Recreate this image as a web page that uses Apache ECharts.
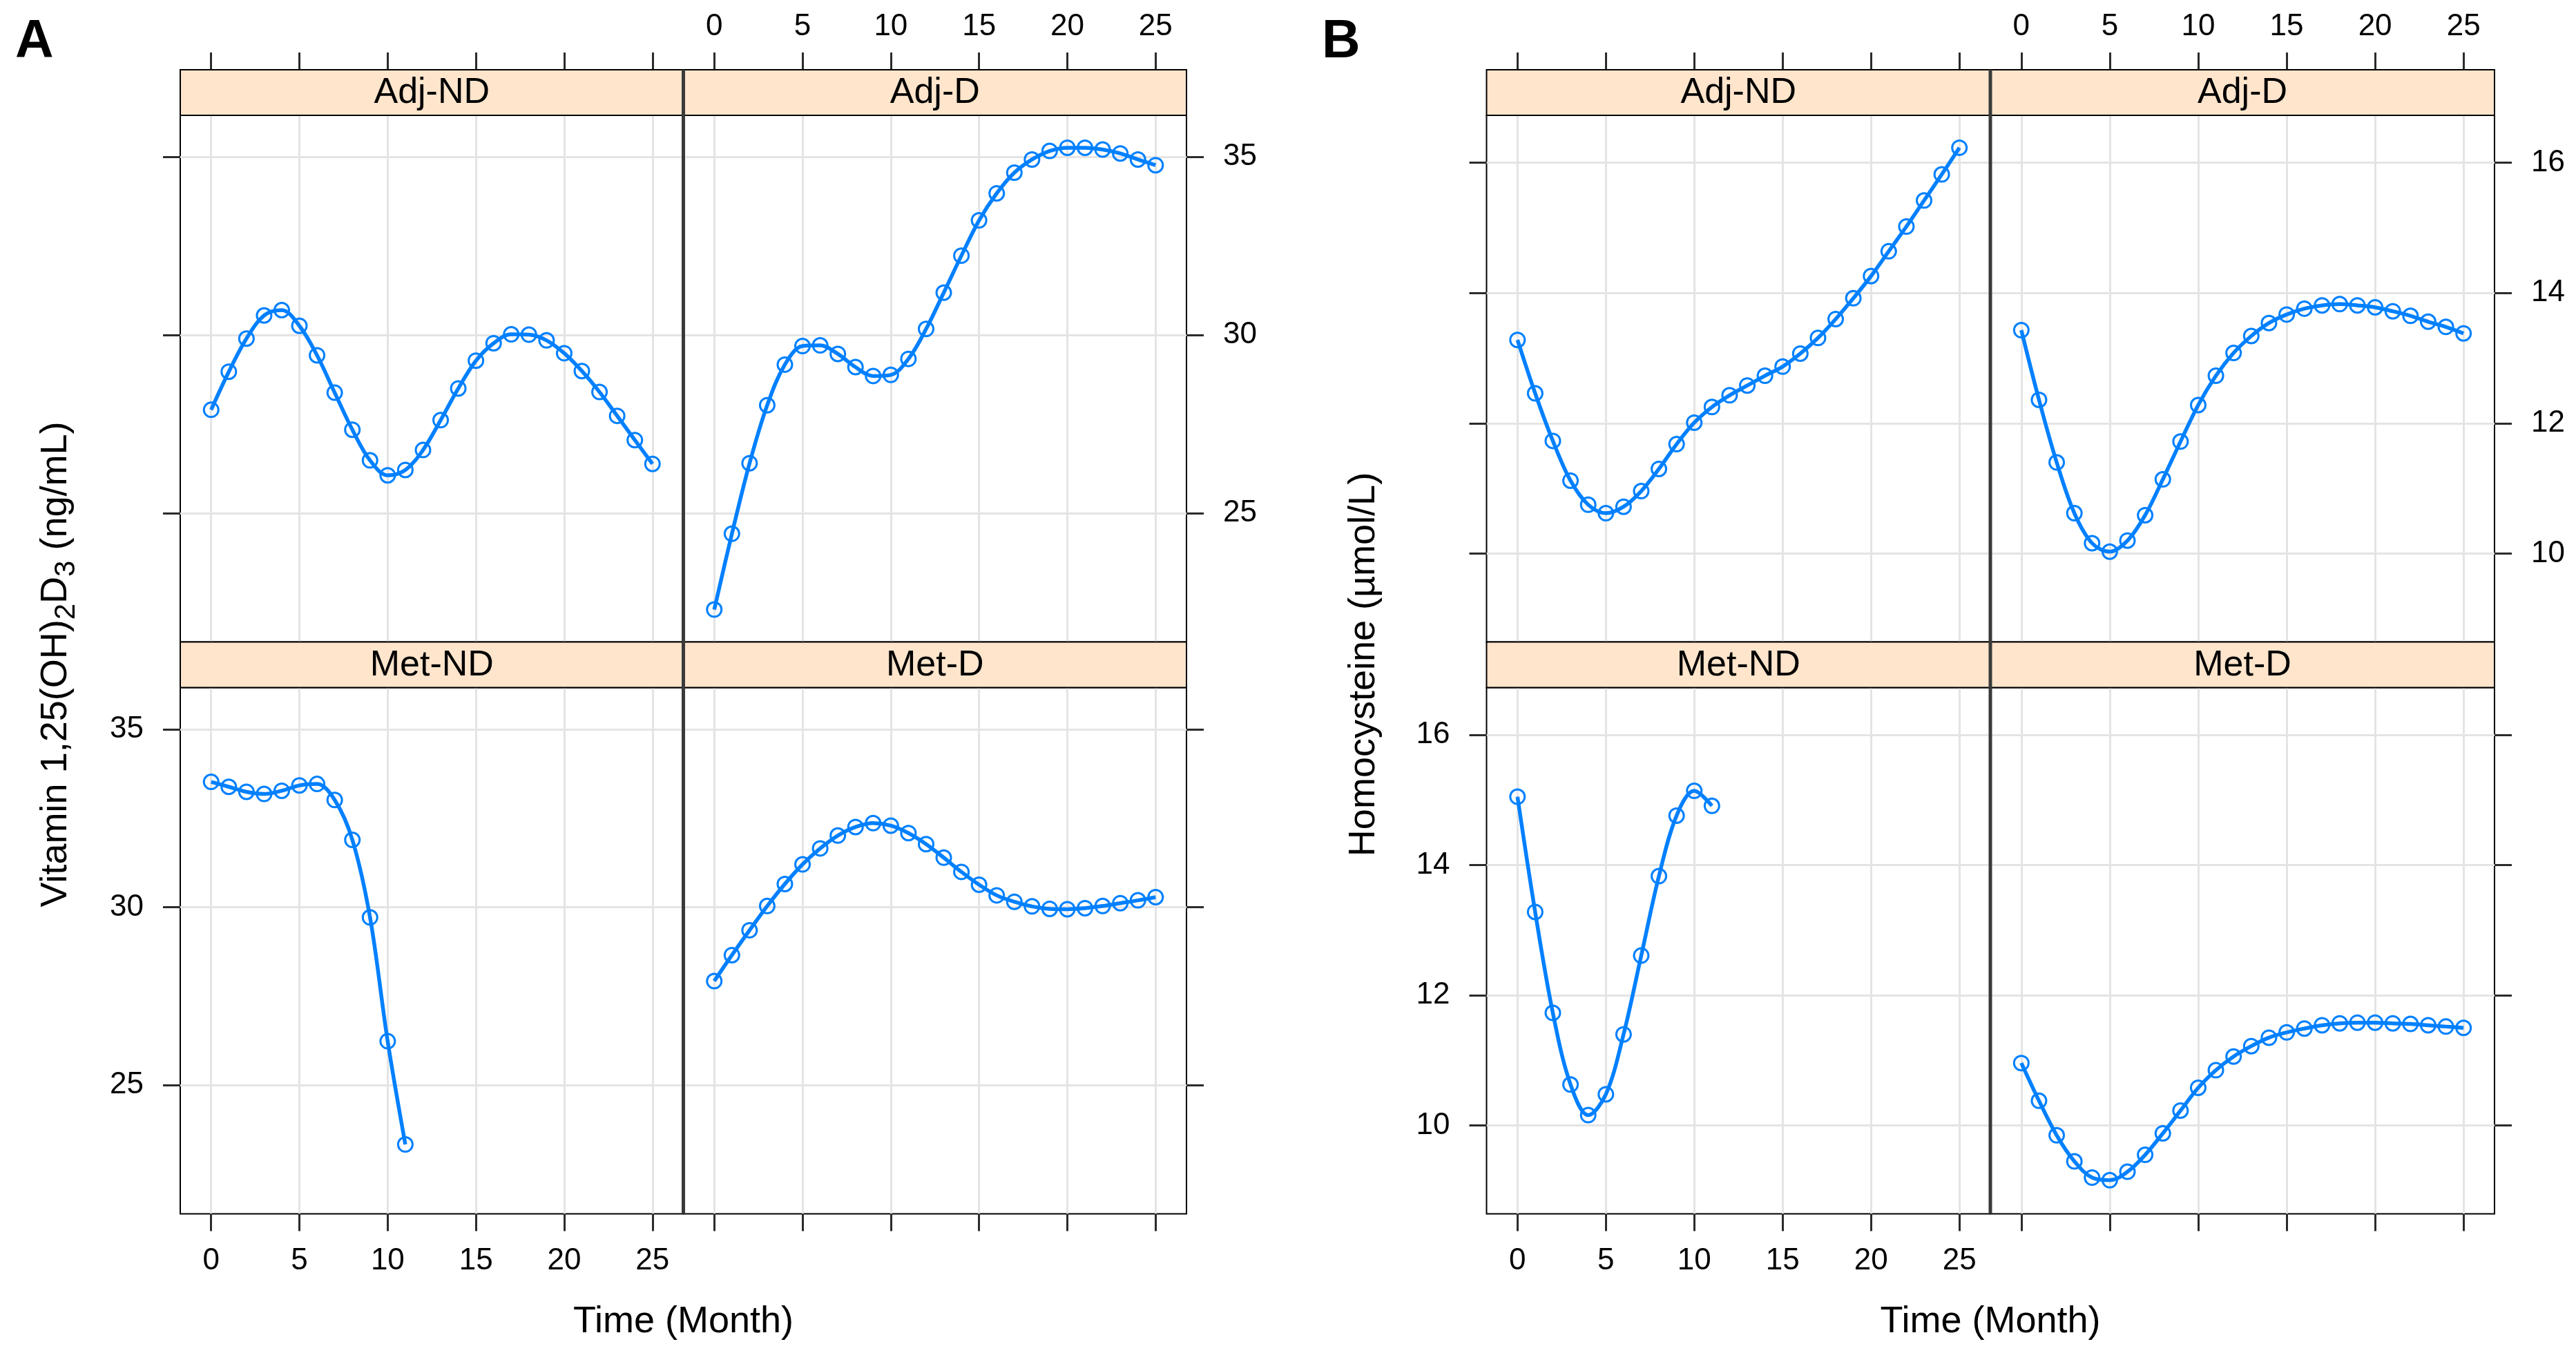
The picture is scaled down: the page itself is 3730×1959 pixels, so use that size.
<!DOCTYPE html>
<html><head><meta charset="utf-8">
<script src="https://cdn.jsdelivr.net/npm/echarts@6/dist/echarts.min.js"></script>
<style>html,body{margin:0;padding:0;background:#fff}#c{width:3730px;height:1959px}</style>
</head><body><div id="c"></div>
<script>
// ---------------- data ----------------
const months = [0,1,2,3,4,5,6,7,8,9,10,11,12,13,14,15,16,17,18,19,20,21,22,23,24,25];
const monthsMetND = [0,1,2,3,4,5,6,7,8,9,10,11];
const panelNames = ['Adj-ND','Adj-D','Met-ND','Met-D'];
const xTicks = [0,5,10,15,20,25];
const vitTicks = [25,30,35];
const hcyTicks = [10,12,14,16];

// Vitamin 1,25(OH)2D3 (ng/mL)
const vitAdjND = [27.90,28.97,29.90,30.55,30.70,30.26,29.43,28.38,27.34,26.48,26.06,26.21,26.77,27.61,28.50,29.28,29.77,30.02,30.01,29.85,29.49,28.99,28.40,27.73,27.05,26.38];
const vitAdjD  = [22.29,24.42,26.40,28.03,29.17,29.69,29.71,29.47,29.10,28.85,28.88,29.33,30.17,31.19,32.23,33.22,33.98,34.56,34.93,35.17,35.26,35.26,35.21,35.10,34.93,34.77];
const vitMetND = [33.52,33.38,33.24,33.18,33.27,33.42,33.46,33.01,31.89,29.71,26.23,23.33];
const vitMetD  = [27.92,28.65,29.35,30.03,30.65,31.20,31.65,32.01,32.25,32.36,32.29,32.08,31.77,31.39,30.99,30.63,30.33,30.15,30.02,29.95,29.94,29.97,30.03,30.11,30.19,30.28];

// Homocysteine (µmol/L)
const hcyAdjND = [13.28,12.46,11.73,11.12,10.75,10.62,10.72,10.96,11.30,11.68,12.01,12.25,12.43,12.58,12.73,12.87,13.07,13.31,13.60,13.92,14.26,14.64,15.02,15.42,15.82,16.23];
const hcyAdjD  = [13.43,12.36,11.40,10.62,10.16,10.03,10.20,10.59,11.14,11.72,12.28,12.73,13.08,13.34,13.54,13.67,13.76,13.81,13.83,13.81,13.78,13.72,13.65,13.56,13.48,13.38];
const hcyMetND = [15.05,13.28,11.73,10.63,10.16,10.48,11.40,12.61,13.83,14.76,15.14,14.91];
const hcyMetD  = [10.96,10.38,9.85,9.45,9.20,9.16,9.29,9.55,9.88,10.23,10.58,10.85,11.06,11.22,11.35,11.43,11.49,11.54,11.57,11.58,11.58,11.57,11.56,11.54,11.52,11.50];

// ---------------- layout ----------------
const FONT = '"Liberation Sans", Arial, "DejaVu Sans", sans-serif';
const BLUE = '#0080ff';
const STRIP_H = 66;
const rows = [ {stripTop:101, top:167, bottom:929.5}, {stripTop:929.5, top:995.5, bottom:1757.5} ];
const figures = [
  { letter:'A', letterX:22, cols:[261, 989.5, 1718], yMin:21.38, yMax:36.17, yTicks:vitTicks,
    series:[[months,vitAdjND],[months,vitAdjD],[monthsMetND,vitMetND],[months,vitMetD]],
    ylabX:81,
    ylab:'{n|Vitamin 1,25(OH)}{s|2}{n|D}{s|3}{n| (ng/mL)}' },
  { letter:'B', letterX:1914, cols:[2152.5, 2882, 3612], yMin:8.644, yMax:16.727, yTicks:hcyTicks,
    series:[[months,hcyAdjND],[months,hcyAdjD],[monthsMetND,hcyMetND],[months,hcyMetD]],
    ylabX:1975,
    ylab:'{n|Homocysteine (µmol/L)}' }
];

const grid = [], xAxis = [], yAxis = [], series = [], graphic = [];
let g = 0;
figures.forEach(fig => {
  for (let p = 0; p < 4; p++) {
    const r = p < 2 ? 0 : 1, c = p % 2;
    const row = rows[r];
    const left = fig.cols[c], width = fig.cols[c+1] - fig.cols[c];
    grid.push({ left:left, top:row.top, width:width, height:row.bottom - row.top,
      show:true, borderColor:'#000', borderWidth:2, backgroundColor:'transparent', containLabel:false });
    const xLab = (r === 0 && c === 1) || (r === 1 && c === 0);
    const yLab = (c === 0 && r === 1) || (c === 1 && r === 0);
    xAxis.push({ type:'value', gridIndex:g, min:-1.75, max:26.75,
      position: r === 0 ? 'top' : 'bottom', offset: r === 0 ? STRIP_H : 0,
      axisLine:{show:false, onZero:false},
      axisTick:{show:true, length:25, customValues:xTicks, lineStyle:{color:'#2b2b2b', width:3}},
      axisLabel:{show:xLab, customValues:xTicks, fontSize:44, color:'#000', fontFamily:FONT, margin: r === 0 ? 40 : 46},
      splitLine:{show:true, lineStyle:{color:'#e4e4e4', width:3}} });
    yAxis.push({ type:'value', gridIndex:g, min:fig.yMin, max:fig.yMax,
      position: c === 0 ? 'left' : 'right',
      axisLine:{show:false, onZero:false},
      axisTick:{show:true, length:25, customValues:fig.yTicks, lineStyle:{color:'#2b2b2b', width:3}},
      axisLabel:{show:yLab, customValues:fig.yTicks, fontSize:44, color:'#000', fontFamily:FONT, margin:53},
      splitLine:{show:true, lineStyle:{color:'#e4e4e4', width:3}} });
    const [xs, ys] = fig.series[p];
    series.push({ type:'line', xAxisIndex:g, yAxisIndex:g, data: xs.map((t,i) => [t, ys[i]]),
      smooth:0.35, symbol:'circle', symbolSize:21, showAllSymbol:true,
      itemStyle:{color:'rgba(0,0,0,0)', borderColor:BLUE, borderWidth:3},
      lineStyle:{color:BLUE, width:5.5}, emphasis:{disabled:true}, silent:true, z:5 });
    // strip
    graphic.push({ type:'rect', z:10, shape:{x:left, y:row.stripTop, width:width, height:STRIP_H},
      style:{fill:'#ffe5cc', stroke:'#000', lineWidth:2} });
    graphic.push({ type:'text', z:11, x:left + width/2, y:row.stripTop + STRIP_H/2 + 1,
      style:{text:panelNames[p], fontSize:52, fontFamily:FONT, fill:'#000',
        align:'center', verticalAlign:'middle', textAlign:'center', textVerticalAlign:'middle'} });
    g++;
  }
  // column divider
  graphic.push({ type:'line', z:20, shape:{x1:fig.cols[1], y1:rows[0].stripTop, x2:fig.cols[1], y2:rows[1].bottom},
    style:{stroke:'#3a3a3a', lineWidth:5} });
  // panel letter
  graphic.push({ type:'text', z:20, x:fig.letterX, y:62,
    style:{text:fig.letter, fontSize:77, fontWeight:'bold', fontFamily:FONT, fill:'#000',
      align:'left', verticalAlign:'middle', textAlign:'left', textVerticalAlign:'middle'} });
  // x title
  graphic.push({ type:'text', z:20, x:fig.cols[1], y:1914,
    style:{text:'Time (Month)', fontSize:54, fontFamily:FONT, fill:'#000',
      align:'center', verticalAlign:'middle', textAlign:'center', textVerticalAlign:'middle'} });
  // y title
  graphic.push({ type:'text', z:20, x:fig.ylabX, y:962, rotation:Math.PI/2,
    style:{text:fig.ylab, fill:'#000', fontFamily:FONT,
      align:'center', verticalAlign:'middle', textAlign:'center', textVerticalAlign:'middle',
      rich:{ n:{fontSize:54, lineHeight:72, fontFamily:FONT, fill:'#000', verticalAlign:'middle'},
             s:{fontSize:42, lineHeight:42, fontFamily:FONT, fill:'#000', verticalAlign:'bottom'} } } });
});

const chart = echarts.init(document.getElementById('c'), null, {renderer:'canvas'});
chart.setOption({ animation:false, backgroundColor:'#fff', grid, xAxis, yAxis, series, graphic });
</script></body></html>
